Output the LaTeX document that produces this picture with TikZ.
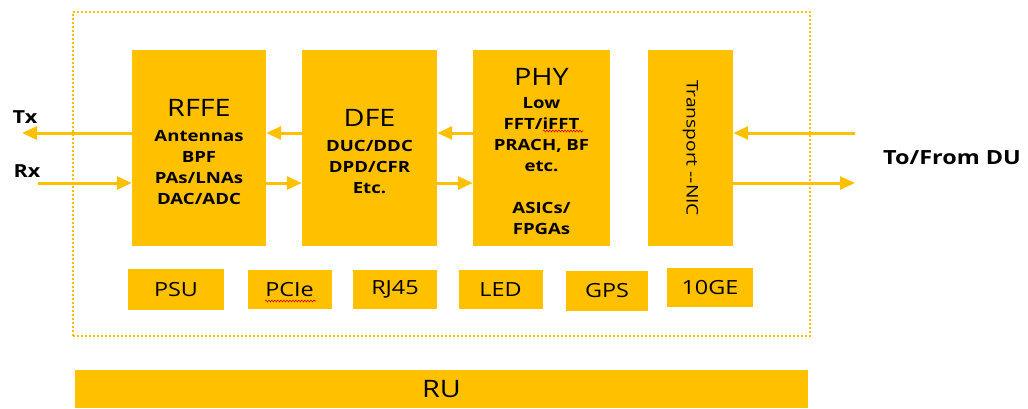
\documentclass[tikz,border=0pt]{standalone}
\usepackage{fontspec}
\setmainfont{Open Sans}[FakeStretch=1.2]
\usetikzlibrary{arrows.meta,decorations.pathmorphing}
\definecolor{gold}{HTML}{FFC000}
\begin{document}
\begin{tikzpicture}[x=1pt,y=-1pt,
  blk/.style={fill=gold,draw=none,inner sep=0pt},
  blktext/.style={inner sep=0pt,align=center,
    font=\fontsize{15.5}{21}\selectfont\bfseries},
  small/.style={fill=gold,draw=none,inner sep=0pt,
    font=\fontsize{19.5}{22}\selectfont},
  arr/.style={draw=gold,line width=3pt,-{Triangle[length=15pt,width=13pt]}},
  lbl/.style={font=\fontsize{18}{20}\selectfont\bfseries,inner sep=0pt},
  frame/.style={draw=gold,line width=2pt,dash pattern=on 2pt off 2pt,inner sep=0pt},
  squiggle/.style={draw=red!85!black,line width=0.6pt,decorate,
    decoration={snake,amplitude=0.9pt,segment length=3pt}}
]
\useasboundingbox (0,0) rectangle (1028,408);
\newcommand{\ttlfont}[1]{{\fontsize{24}{24}\mdseries\selectfont #1}}
% outer dotted frame
\node[frame,minimum width=737,minimum height=324] (frame) at (441.5,174) {};
% main blocks
\node[blk,minimum width=134,minimum height=196] (rffe) at (199,148) {};
\node[blk,minimum width=135,minimum height=196] (dfe) at (369.5,148) {};
\node[blk,minimum width=137,minimum height=196] (phy) at (541.5,148) {};
\node[blk,minimum width=85,minimum height=196] (nic) at (690.5,148) {};
\node[blktext,yshift=-4pt] (rffetxt) at (rffe.center)
  {\ttlfont{RFFE}\\[4pt]Antennas\\BPF\\PAs/LNAs\\DAC/ADC};
\node[blktext,yshift=-4pt] (dfetxt) at (dfe.center)
  {\ttlfont{DFE}\\[4pt]DUC/DDC\\DPD/CFR\\Etc.};
\node[blktext,yshift=-4pt] (phytxt) at (phy.center)
  {\ttlfont{PHY}\\[2pt]Low\\FFT/iFFT\\PRACH, BF\\etc.\\[21pt]ASICs/\\FPGAs};
\node[font=\fontsize{16}{18}\selectfont,rotate=-90,inner sep=0pt] (nictext) at (nic.center) {Transport {-}{-}NIC};
% small boxes
\node[small,minimum width=96,minimum height=41] (psu) at (176,289.5) {PSU};
\node[small,minimum width=84,minimum height=39] (pcie) at (289.5,289.5) {PCIe};
\node[small,minimum width=84,minimum height=39] (rj45) at (395,289.5) {RJ45};
\node[small,minimum width=84,minimum height=39] (led) at (500.5,289.5) {LED};
\node[small,minimum width=82,minimum height=40] (gps) at (607,291) {GPS};
\node[small,minimum width=86,minimum height=39] (tenge) at (710,287.5) {10GE};
% RU bar
\node[small,minimum width=733,minimum height=38,font=\fontsize{24}{26}\selectfont] (ru) at (441.5,389) {RU};
% labels
\node[lbl] (tx) at (25,117) {Tx};
\node[lbl] (rx) at (27,171) {Rx};
\node[lbl,font=\fontsize{19.5}{22}\selectfont\bfseries] (du) at (952,158) {To/From DU};
% arrow levels
\coordinate (up) at (0,133);
\coordinate (dn) at (0,183);
\coordinate (txend) at (22,133);
\coordinate (rxstart) at (38,183);
\coordinate (duin) at (855,133);
\coordinate (duout) at (855,183);
\draw[arr] (rffe.west |- up) -- (txend);
\draw[arr] (rxstart) -- (rffe.west |- dn);
\draw[arr] (dfe.west |- up) -- (rffe.east |- up);
\draw[arr] (rffe.east |- dn) -- (dfe.west |- dn);
\draw[arr] (phy.west |- up) -- (dfe.east |- up);
\draw[arr] (dfe.east |- dn) -- (phy.west |- dn);
\draw[arr] (duin) -- (nic.east |- up);
\draw[arr] (nic.east |- dn) -- (duout);
% spell-check squiggles
\coordinate (sq1a) at (543,131); \coordinate (sq1b) at (583,131);
\coordinate (sq2a) at (265,301); \coordinate (sq2b) at (316,301);
\draw[squiggle] (sq1a) -- (sq1b);
\draw[squiggle] (sq2a) -- (sq2b);
\end{tikzpicture}
\end{document}
